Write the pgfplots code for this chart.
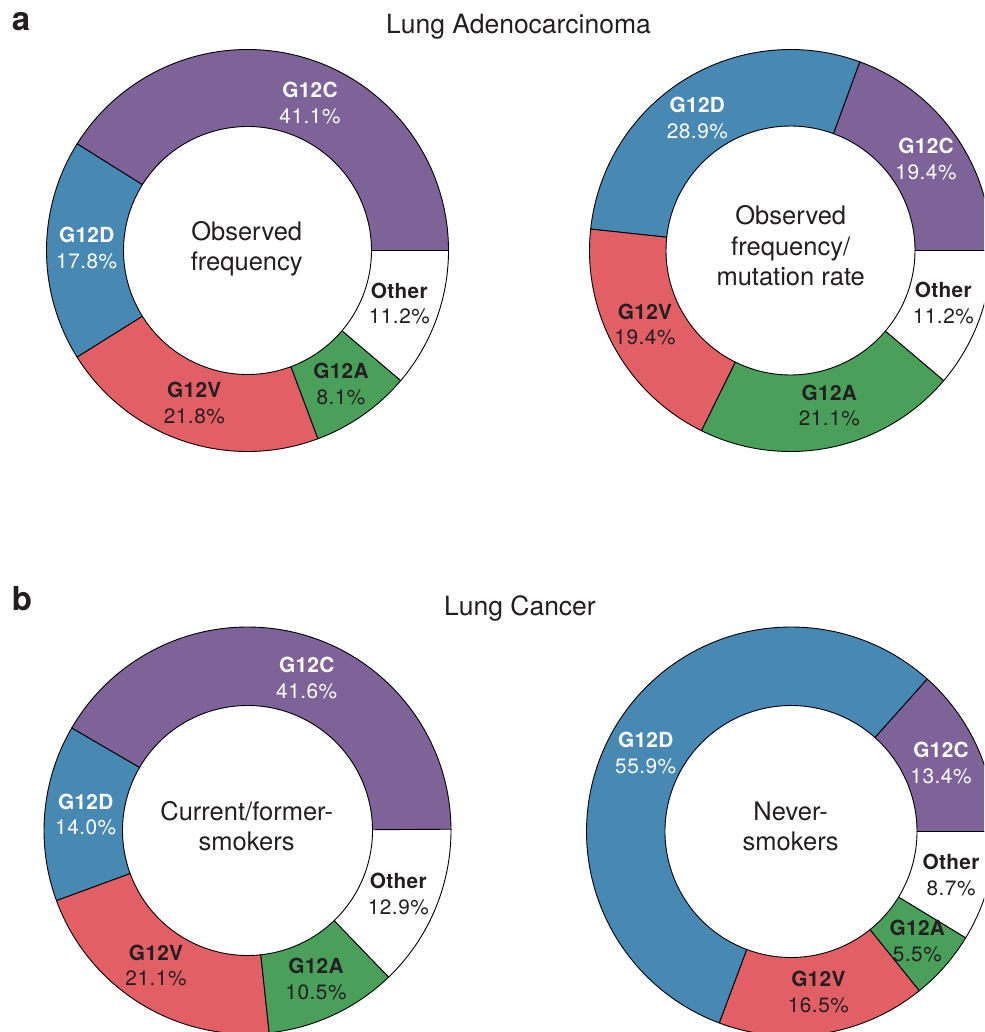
\documentclass[border=0pt]{standalone}
\usepackage{pgfplots}
\usepackage{pgfplotstable}
\pgfplotsset{compat=1.18}
\usepackage{fontspec}
\setmainfont{TeX Gyre Heros}

\definecolor{kpurple}{HTML}{7D6397}
\definecolor{kblue}{HTML}{4889B4}
\definecolor{kred}{HTML}{E35F66}
\definecolor{kgreen}{HTML}{4AA05A}
\definecolor{ktext}{HTML}{231F20}
\colorlet{seg0}{kpurple}
\colorlet{seg1}{kblue}
\colorlet{seg2}{kred}
\colorlet{seg3}{kgreen}
\colorlet{seg4}{white}

% order: G12C, G12D, G12V, G12A, Other (counter-clockwise from 3 o'clock)
\pgfplotstableread{
label pct
G12C 41.1
G12D 17.8
G12V 21.8
G12A 8.1
Other 11.2
}\tabAL
\pgfplotstableread{
label pct
G12C 19.4
G12D 28.9
G12V 19.4
G12A 21.1
Other 11.2
}\tabAR
\pgfplotstableread{
label pct
G12C 41.6
G12D 14.0
G12V 21.1
G12A 10.5
Other 12.9
}\tabBL
\pgfplotstableread{
label pct
G12C 13.4
G12D 55.9
G12V 16.5
G12A 5.5
Other 8.7
}\tabBR

\newcommand\donut[5]{%
  \gdef\curang{0}%
  \foreach \k in {0,...,4}{%
    \pgfplotstablegetelem{\k}{pct}\of{#1}%
    \pgfmathsetmacro\aend{\curang+3.6*\pgfplotsretval}%
    \filldraw[fill=seg\k, draw=black, line width=0.9pt, line join=round]
      (axis cs:#2,#3) ++(\curang:#4pt) arc[start angle=\curang, end angle=\aend, radius=#4pt]
      -- ++(\aend:{#5pt-#4pt}) arc[start angle=\aend, end angle=\curang, radius=#5pt] -- cycle;
    \xdef\curang{\aend}%
  }%
}

\newcommand\lab[5]{%
  \pgfmathsetmacro\ya{#2+7.4}%
  \pgfmathsetmacro\yb{#2+33.2}%
  \node[anchor=base, text=#5, inner sep=0pt, font=\fontsize{20.8}{24}\selectfont\bfseries\addfontfeatures{LetterSpace=1.5}] at (axis cs:#1,\ya) {#3};
  \node[anchor=base, text=#5, inner sep=0pt, font=\fontsize{20.8}{24}\selectfont\addfontfeatures{LetterSpace=2.5}] at (axis cs:#1,\yb) {#4};%
}
\newcommand\ctext[3]{%
  \node[anchor=base, text=ktext, inner sep=0pt, font=\fontsize{25.5}{30}\selectfont] at (axis cs:#1,#2) {#3};%
}

\begin{document}
\begin{tikzpicture}
\begin{axis}[
  scale only axis, width=984pt, height=1032pt,
  xmin=0, xmax=984, ymin=0, ymax=1032,
  y dir=reverse, hide axis, clip=true]
\pgfplotsextra{%
  \donut{\tabAL}{247.5}{250.5}{201}{124}
  \donut{\tabAR}{790.5}{250.5}{201}{124.5}
  \donut{\tabBL}{247.5}{830.5}{203.5}{125}
  \donut{\tabBR}{791}{831.5}{204.5}{126}
  % panel letters and titles
  \node[anchor=base, inner sep=0pt, text=ktext, font=\fontsize{33}{36}\selectfont\bfseries] at (axis cs:21,30.7) {a};
  \node[anchor=base, inner sep=0pt, text=ktext, font=\fontsize{33}{36}\selectfont\bfseries] at (axis cs:22,610) {b};
  \node[anchor=base, inner sep=0pt, text=ktext, font=\fontsize{26.5}{30}\selectfont] at (axis cs:518.5,34) {Lung Adenocarcinoma};
  \node[anchor=base, inner sep=0pt, text=ktext, font=\fontsize{26.5}{30}\selectfont] at (axis cs:520,615) {Lung Cancer};
  % a-left
  \ctext{246.7}{240.7}{Observed}
  \ctext{246.7}{270}{frequency}
  \lab{310}{90}{G12C}{41.1\%}{white}
  \lab{86.7}{235}{G12D}{17.8\%}{white}
  \lab{399.3}{290.7}{Other}{11.2\%}{ktext}
  \lab{341}{371}{G12A}{8.1\%}{ktext}
  \lab{194.3}{390}{G12V}{21.8\%}{ktext}
  % a-right
  \ctext{790.7}{225}{Observed}
  \ctext{790.7}{255}{frequency/}
  \ctext{790.7}{285}{mutation rate}
  \lab{697.3}{105}{G12D}{28.9\%}{white}
  \lab{926}{146}{G12C}{19.4\%}{white}
  \lab{943.3}{290}{Other}{11.2\%}{ktext}
  \lab{645}{311.7}{G12V}{19.4\%}{ktext}
  \lab{829.3}{392.7}{G12A}{21.1\%}{ktext}
  % b-left
  \ctext{246.7}{820}{Current/former-}
  \ctext{246.7}{850}{smokers}
  \lab{306.7}{665}{G12C}{41.6\%}{white}
  \lab{85.7}{801.7}{G12D}{14.0\%}{white}
  \lab{398.3}{881}{Other}{12.9\%}{ktext}
  \lab{156}{952.7}{G12V}{21.1\%}{ktext}
  \lab{316}{966}{G12A}{10.5\%}{ktext}
  % b-right
  \ctext{790.7}{820}{Never-}
  \ctext{790.7}{850}{smokers}
  \lab{645.7}{740}{G12D}{55.9\%}{white}
  \lab{941}{750}{G12C}{13.4\%}{white}
  \lab{951}{862.3}{Other}{8.7\%}{ktext}
  \lab{917.3}{928.3}{G12A}{5.5\%}{ktext}
  \lab{818.3}{979.3}{G12V}{16.5\%}{ktext}
}
\end{axis}
\pgfresetboundingbox
\useasboundingbox (0,0) rectangle (984pt,1032pt);
\end{tikzpicture}
\end{document}
